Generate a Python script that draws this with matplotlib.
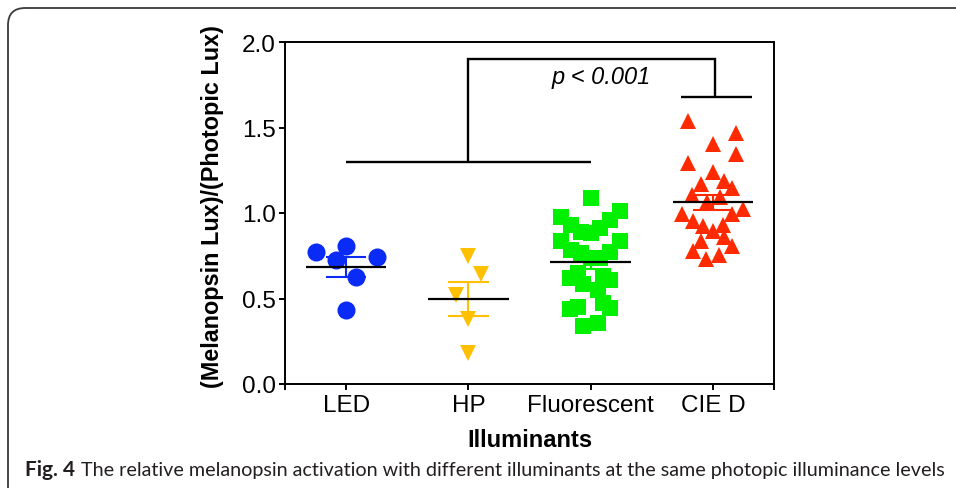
import numpy as np
import matplotlib
matplotlib.use("Agg")
import matplotlib.pyplot as plt
from matplotlib.patches import FancyBboxPatch

# ---------------- data ----------------
categories = ["LED", "HP", "Fluorescent", "CIE D"]

led_values = [0.772, 0.807, 0.725, 0.743, 0.626, 0.433]
led_offsets = [-0.25, 0.0, -0.08, 0.25, 0.08, 0.0]

hp_values = [0.750, 0.643, 0.520, 0.380, 0.181]
hp_offsets = [0.0, 0.10, -0.10, 0.0, 0.0]

fluor_values = [1.088, 1.014, 0.979, 0.961, 0.930, 0.891, 0.914, 0.881, 0.836, 0.836,
                0.782, 0.772, 0.768, 0.739, 0.735, 0.647, 0.633, 0.622, 0.610, 0.585,
                0.550, 0.474, 0.452, 0.446, 0.439, 0.358, 0.339]
fluor_offsets = [0.0, 0.24, -0.24, 0.16, -0.16, -0.08, 0.08, 0.0, -0.24, 0.24,
                 -0.16, 0.16, -0.08, 0.08, 0.0, -0.10, 0.10, -0.17, 0.16, -0.06,
                 0.06, 0.10, -0.10, 0.16, -0.17, 0.06, -0.06]

cie_values = [1.536, 1.468, 1.404, 1.345, 1.292, 1.238, 1.189, 1.168, 1.146, 1.107,
              1.092, 1.062, 1.023, 0.994, 0.994, 0.955, 0.932, 0.926, 0.897, 0.858,
              0.834, 0.809, 0.780, 0.756, 0.731]
cie_offsets = [-0.20, 0.19, 0.0, 0.19, -0.20, 0.0, 0.09, -0.10, 0.16, -0.17,
               0.06, -0.05, 0.25, -0.25, 0.16, -0.16, 0.08, -0.08, 0.0, 0.09,
               -0.10, 0.16, -0.16, 0.05, -0.06]

bracket_low = 1.30      # line over LED..Fluorescent
bracket_top = 1.90
bracket_right = 1.68    # short line over CIE D
p_text = "p < 0.001"

y_ticks = [0.0, 0.5, 1.0, 1.5, 2.0]
y_tick_labels = ["0.0", "0.5", "1.0", "1.5", "2.0"]
y_label = "(Melanopsin Lux)/(Photopic Lux)"
x_label = "Illuminants"
caption_bold = "Fig. 4"
caption_rest = "The relative melanopsin activation with different illuminants at the same photopic illuminance levels"

# ---------------- styles ----------------
colors = ["#0A2BF5", "#FFC000", "#00F000", "#FF2A00"]
markers = ["o", "v", "s", "^"]
msizes = [13, 11, 11.5, 11]

W, H = 956, 489
fig = plt.figure(figsize=(W / 100, H / 100), dpi=100)
fig.patch.set_facecolor("white")

# outer rounded frame of the figure panel
frame = FancyBboxPatch((8 / W, -30 / H), (W + 40) / W, (H + 30 - 9) / H,
                       boxstyle="round,pad=0,rounding_size=0.018",
                       transform=fig.transFigure, fill=False,
                       edgecolor="#3a3a3a", linewidth=1.3, mutation_aspect=W / H)
fig.patches.append(frame)

L, R, T, B = 285, 774, 43, 385
ax = fig.add_axes([L / W, 1 - B / H, (R - L) / W, (B - T) / H])
ax.set_xlim(-0.5, 3.5)
ax.set_ylim(0, 2.0)

groups = [
    (led_values, led_offsets),
    (hp_values, hp_offsets),
    (fluor_values, fluor_offsets),
    (cie_values, cie_offsets),
]

for i, (vals, offs) in enumerate(groups):
    vals = np.asarray(vals)
    xs = i + np.asarray(offs)
    ax.plot(xs, vals, linestyle="none", marker=markers[i], markersize=msizes[i],
            markerfacecolor=colors[i], markeredgewidth=0, zorder=3)
    m = vals.mean()
    sem = vals.std(ddof=1) / np.sqrt(len(vals))
    ax.vlines(i, m - sem, m + sem, color=colors[i], lw=1.5, zorder=4)
    ax.hlines([m - sem, m + sem], i - 0.165, i + 0.165, color=colors[i], lw=1.5, zorder=4)
    ax.hlines(m, i - 0.33, i + 0.33, color="black", lw=1.6, zorder=5)

# significance bracket
blw = 1.7
ax.plot([0, 2], [bracket_low, bracket_low], color="black", lw=blw, solid_capstyle="butt")
ax.plot([1, 1, 3.02, 3.02], [bracket_low, bracket_top, bracket_top, bracket_right],
        color="black", lw=blw, solid_capstyle="butt", solid_joinstyle="miter")
ax.plot([3.02 - 0.28, 3.02 + 0.3], [bracket_right, bracket_right], color="black", lw=blw,
        solid_capstyle="butt")
ax.text(2.09, 1.80, p_text, ha="center", va="center", fontsize=17, style="italic",
        family="Liberation Sans")

# axes styling
for s in ax.spines.values():
    s.set_linewidth(1.4)
    s.set_color("black")
ax.set_yticks(y_ticks)
ax.set_yticklabels(y_tick_labels, family="Liberation Sans", fontsize=17.5)
ax.set_xticks(range(len(categories)))
ax.set_xticklabels(categories, family="Liberation Sans", fontsize=17.5)
ax.set_xticks([-0.5, 3.5], minor=True)
ax.tick_params(axis="both", which="both", direction="out", length=4.5, width=1.4,
               color="black")
ax.tick_params(axis="x", which="major", pad=3)
ax.tick_params(axis="y", which="major", pad=2)
ax.tick_params(axis="y", which="minor", left=False)

fig.text(530 / W, 1 - 441 / H, x_label, ha="center", va="center", fontsize=17,
         fontweight="bold", family="Liberation Sans")
fig.text(212 / W, 1 - 207 / H, y_label, ha="center", va="center", rotation=90,
         fontsize=16.8, fontweight="bold", family="Liberation Sans")

# caption
renderer = fig.canvas.get_renderer()
cap_y = 1 - 476 / H
tb = fig.text(25 / W, cap_y, caption_bold, ha="left", va="baseline", fontsize=15,
              fontweight="bold", family="Lato", color="#231f20")
bb = tb.get_window_extent(renderer)
x_start = bb.x1 + 6
tr = fig.text(x_start / W, cap_y, caption_rest, ha="left", va="baseline", fontsize=12,
              family="Lato", color="#231f20")
target = 943 - x_start
for _ in range(3):
    w = tr.get_window_extent(renderer).width
    tr.set_fontsize(tr.get_fontsize() * target / w)

fig.savefig("out.png", dpi=100, facecolor="white")
